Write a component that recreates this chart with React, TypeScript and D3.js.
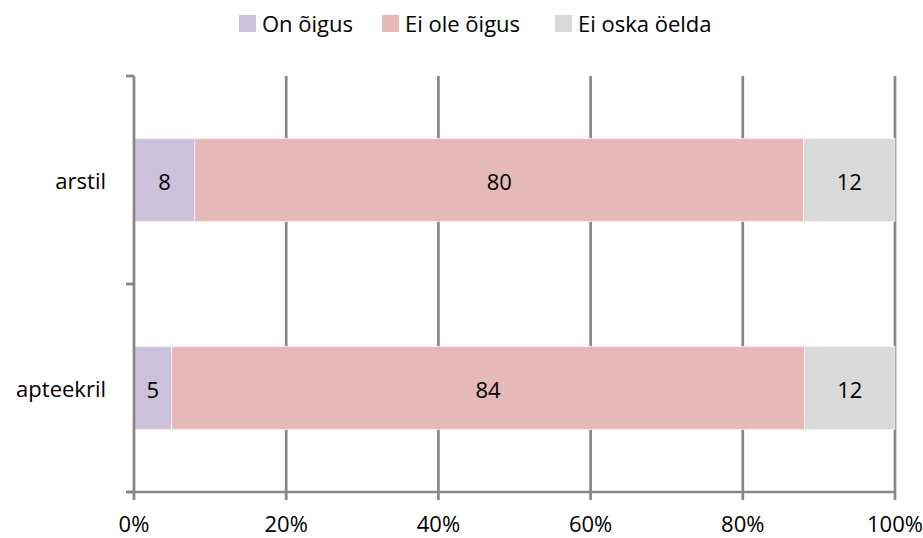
import React from "react";
import * as d3 from "d3";

const categories = ["arstil", "apteekril"];
const seriesNames = ["On õigus", "Ei ole õigus", "Ei oska öelda"];
const onOigus = [8, 5];
const eiOleOigus = [80, 84];
const eiOska = [12, 12];
const xTicks = [0, 0.2, 0.4, 0.6, 0.8, 1];
const colors = ["#CCC1DA", "#E6B9B8", "#D9D9D9"];

export default function App() {
  const W = 923, H = 538;
  const left = 134, right = 895, top = 76, bottom = 492;
  const font = "'Open Sans', sans-serif";
  const fs = 22;
  const x = d3.scaleLinear().domain([0, 1]).range([left, right]);
  const y = d3.scaleBand().domain(categories).range([top, bottom]).paddingInner(0.6).paddingOuter(0.3);
  const series = [onOigus, eiOleOigus, eiOska];
  const rows = categories.map((c, i) => {
    const vals = series.map((s) => s[i]);
    const total = d3.sum(vals);
    let acc = 0;
    return vals.map((v, k) => {
      const x0 = acc / total;
      acc += v;
      return { c, k, v, x0, x1: acc / total };
    });
  });
  const axisColor = "#878787";
  const legendX = [239, 382, 555];
  return (
    <svg width={W} height={H} style={{ position: "absolute", left: 0, top: 0 }} fontFamily={font}>
      <rect width={W} height={H} fill="#fff" />
      {xTicks.slice(1).map((t) => (
        <line key={t} x1={x(t)} x2={x(t)} y1={top} y2={bottom + 8} stroke={axisColor} strokeWidth={2.7} />
      ))}
      {rows.flat().map((d) => (
        <g key={d.c + d.k}>
          <rect x={x(d.x0)} y={y(d.c)} width={x(d.x1) - x(d.x0)} height={y.bandwidth()} fill={colors[d.k]} stroke="#fff" strokeWidth={0.6} />
          <text x={(x(d.x0) + x(d.x1)) / 2} y={y(d.c)! + y.bandwidth() / 2} dy="0.47em" textAnchor="middle" fontSize={fs} fill="#000">{d.v}</text>
        </g>
      ))}
      <line x1={left} x2={left} y1={top} y2={bottom} stroke={axisColor} strokeWidth={2.7} />
      {[top, (top + bottom) / 2, bottom].map((t) => (
        <line key={t} x1={left - 8} x2={left} y1={t} y2={t} stroke={axisColor} strokeWidth={2.7} />
      ))}
      <line x1={left - 8} x2={right} y1={bottom} y2={bottom} stroke={axisColor} strokeWidth={2.7} />
      <line x1={left} x2={left} y1={bottom} y2={bottom + 8} stroke={axisColor} strokeWidth={2.7} />
      {categories.map((c) => (
        <text key={c} x={106} y={y(c)! + y.bandwidth() / 2} dy="0.42em" textAnchor="end" fontSize={fs} fill="#000">{c}</text>
      ))}
      {xTicks.map((t) => (
        <text key={t} x={x(t)} y={532} textAnchor="middle" fontSize={fs} fill="#000">{d3.format(".0%")(t)}</text>
      ))}
      {seriesNames.map((n, k) => (
        <g key={n}>
          <rect x={legendX[k]} y={15} width={17} height={17} fill={colors[k]} />
          <text x={legendX[k] + 23} y={32} fontSize={fs} fill="#000">{n}</text>
        </g>
      ))}
    </svg>
  );
}
